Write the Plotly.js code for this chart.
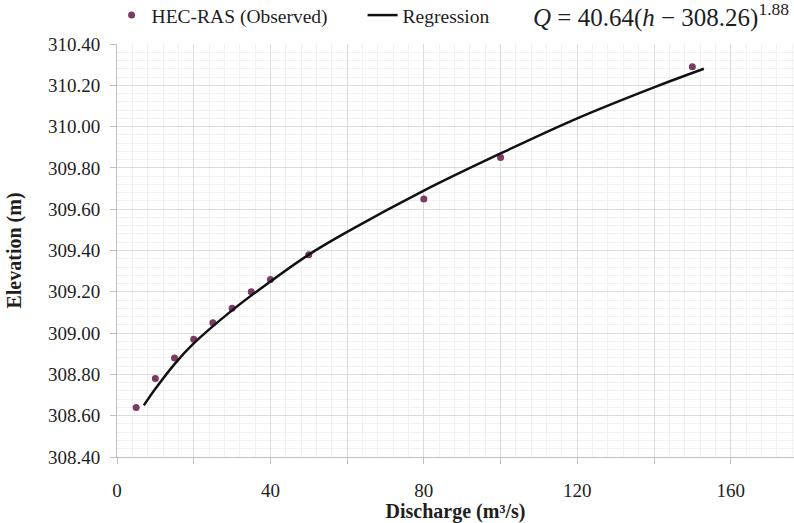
<!DOCTYPE html>
<html>
<head>
<meta charset="utf-8">
<script src="https://cdn.plot.ly/plotly-3.0.1.min.js"></script>
<style>html,body{margin:0;padding:0;background:#fff;}#chart{width:794px;height:523px;}</style>
</head>
<body>
<div id="chart"></div>
<script>
// Observed HEC-RAS points
const obsQ = [5, 10, 15, 20, 25, 30, 35, 40, 50, 80, 100, 150];
const obsH = [308.64, 308.78, 308.88, 308.97, 309.05, 309.12, 309.20, 309.26, 309.38, 309.65, 309.85, 310.29];
// Regression curve
const regQ = [7, 10, 15, 20, 30, 40, 50, 60, 80, 100, 120, 140, 153];
const regH = [308.65, 308.73, 308.85, 308.95, 309.11, 309.25, 309.38, 309.49, 309.69, 309.87, 310.04, 310.19, 310.28];
// Axis ticks
const xTickVals = [0, 20, 40, 60, 80, 100, 120, 140, 160];
const xTickText = ['0', '', '40', '', '80', '', '120', '', '160'];
const yTickVals = [308.4, 308.6, 308.8, 309.0, 309.2, 309.4, 309.6, 309.8, 310.0, 310.2, 310.4];
const yTickText = ['308.40', '308.60', '308.80', '309.00', '309.20', '309.40', '309.60', '309.80', '310.00', '310.20', '310.40'];
const equationText = '<i>Q</i> = 40.64(<i>h</i> − 308.26)<sup>1.88</sup>';

const serif = 'Liberation Serif, Times New Roman, serif';
const txt = '#1e1e1e';

const traces = [
  {
    x: obsQ, y: obsH, mode: 'markers', type: 'scatter', name: 'HEC-RAS (Observed)',
    marker: {color: '#7b3b63', size: 7}
  },
  {
    x: regQ, y: regH, mode: 'lines', type: 'scatter', name: 'Regression',
    line: {color: '#111111', width: 2.5, shape: 'spline', smoothing: 1}
  }
];

const layout = {
  width: 794, height: 523,
  margin: {l: 117, r: 0, t: 44, b: 66, autoexpand: false},
  paper_bgcolor: '#ffffff', plot_bgcolor: '#ffffff',
  font: {family: serif, color: txt, size: 19},
  showlegend: true,
  legend: {
    orientation: 'h', x: -0.008, y: 1.022, xanchor: 'left', yanchor: 'bottom',
    font: {family: serif, size: 19.5, color: txt},
    itemwidth: 30, entrywidth: 206, entrywidthmode: 'pixels',
    bgcolor: 'rgba(0,0,0,0)', tracegroupgap: 0
  },
  xaxis: {
    range: [0, 176.5], tickvals: xTickVals, ticktext: xTickText,
    showgrid: true, gridcolor: '#dcdcdc', gridwidth: 1,
    minor: {dtick: 4, showgrid: true, gridcolor: '#f1f1f1', ticks: ''},
    showline: true, linecolor: '#bfbfbf', linewidth: 1,
    ticks: 'outside', ticklen: 6, tickcolor: '#bfbfbf',
    ticklabelstandoff: 10,
    tickfont: {family: serif, size: 19, color: txt},
    zeroline: false,
    title: {text: '<b>Discharge (m³/s)</b>', font: {family: serif, size: 20, color: txt}, standoff: 5}
  },
  yaxis: {
    range: [308.4, 310.4], tickvals: yTickVals, ticktext: yTickText,
    showgrid: true, gridcolor: '#dcdcdc', gridwidth: 1,
    minor: {dtick: 0.04, showgrid: true, gridcolor: '#f1f1f1', ticks: ''},
    showline: true, linecolor: '#bfbfbf', linewidth: 1,
    ticks: 'outside', ticklen: 6, tickcolor: '#bfbfbf',
    ticklabelstandoff: 6,
    tickfont: {family: serif, size: 19, color: txt},
    zeroline: false,
    title: {text: '<b>Elevation (m)</b>', font: {family: serif, size: 20, color: txt}, standoff: 20}
  },
  annotations: [{
    xref: 'paper', yref: 'paper', x: 0.611, y: 1.0, xanchor: 'left', yanchor: 'bottom',
    yshift: 10,
    text: equationText, showarrow: false,
    font: {family: serif, size: 25, color: txt}
  }]
};

Plotly.newPlot('chart', traces, layout, {displayModeBar: false, staticPlot: true});
</script>
</body>
</html>
